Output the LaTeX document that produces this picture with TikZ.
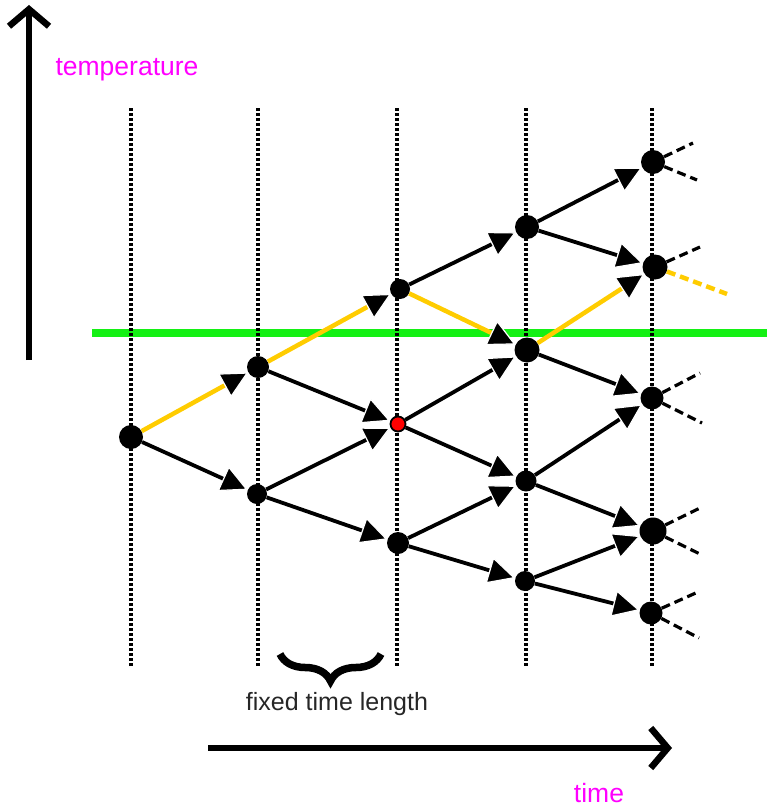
\documentclass[tikz,border=0pt]{standalone}
\usepackage{fontspec}
\setmainfont{Liberation Sans}
\usetikzlibrary{arrows.meta,decorations.pathreplacing}
\definecolor{gold}{RGB}{255,204,0}
\definecolor{lgreen}{RGB}{20,240,20}
\definecolor{mag}{RGB}{255,0,255}
\begin{document}
\begin{tikzpicture}[x=1pt,y=-1pt,
  dot/.style={circle,fill=black,inner sep=0pt,minimum size=#1},
  edge/.style={line width=3.8pt,-{Triangle[length=27pt,width=27pt,color=white,fill=black,line width=1.2pt]}},
  hot/.style={edge,draw=gold,line width=4.5pt},
  cont/.style={line width=3.2pt,dash pattern=on 9pt off 5pt},
  grid/.style={line width=3.2pt,dash pattern=on 2.5pt off 2.5pt},
  bigarrow/.style={line width=6.5pt,-{Straight Barb[length=17pt,width=40pt,line width=6.5pt]}},
  lbl/.style={font=\fontsize{26.5}{30}\selectfont}
]
\useasboundingbox (0,0) rectangle (767,808);

% green threshold line
\coordinate (gl) at (92,333);
\coordinate (gr) at (767,333);
\draw[lgreen,line width=8pt] (gl) -- (gr);

% time columns
\foreach \x [count=\i] in {131,258,397,526,652}{
  \coordinate (t\i) at (\x,108);
  \coordinate (b\i) at (\x,667);
  \draw[grid] (t\i) -- (b\i);
}

% nodes
\node[dot=24pt] (A) at (131,437) {};
\node[dot=22pt] (B1) at (258,367) {};
\node[dot=20pt] (B2) at (257,494) {};
\node[dot=20pt] (C1) at (400,289) {};
\node[circle,fill=red,draw=black,line width=1.8pt,inner sep=0pt,minimum size=15pt] (C2) at (398,424) {};
\node[dot=22pt] (C3) at (398,543) {};
\node[dot=24pt] (D1) at (527,227) {};
\node[dot=25pt] (D2) at (527,350) {};
\node[dot=21pt] (D3) at (526,481) {};
\node[dot=20pt] (D4) at (525,581) {};
\node[dot=24pt] (E1) at (653,162) {};
\node[dot=25pt] (E2) at (655,267) {};
\node[dot=23pt] (E3) at (652,398) {};
\node[dot=27pt] (E4) at (653,531) {};
\node[dot=23pt] (E5) at (651,613) {};

% edges
\draw[hot]  (A) -- (B1);
\draw[edge] (A) -- (B2);
\draw[hot]  (B1) -- (C1);
\draw[edge] (B1) -- (C2);
\draw[edge] (B2) -- (C2);
\draw[edge] (B2) -- (C3);
\draw[edge] (C1) -- (D1);
\draw[hot]  (C1) -- (D2);
\draw[edge] (C2) -- (D2);
\draw[edge] (C2) -- (D3);
\draw[edge] (C3) -- (D3);
\draw[edge] (C3) -- (D4);
\draw[edge] (D1) -- (E1);
\draw[edge] (D1) -- (E2);
\draw[hot]  (D2) -- (E2);
\draw[edge] (D2) -- (E3);
\draw[edge] (D3) -- (E3);
\draw[edge] (D3) -- (E4);
\draw[edge] (D4) -- (E4);
\draw[edge] (D4) -- (E5);

% continuations
\coordinate (e1u) at (693,143);
\coordinate (e1d) at (697,180);
\coordinate (e2u) at (700,247);
\coordinate (e2d) at (727,294);
\coordinate (e3u) at (700,373);
\coordinate (e3d) at (702,423);
\coordinate (e4u) at (702,507);
\coordinate (e4d) at (702,555);
\coordinate (e5u) at (698,592);
\coordinate (e5d) at (699,638);
\draw[cont] (E1) -- (e1u);
\draw[cont] (E1) -- (e1d);
\draw[cont] (E2) -- (e2u);
\draw[cont,gold,line width=4.5pt] (E2) -- (e2d);
\draw[cont] (E3) -- (e3u);
\draw[cont] (E3) -- (e3d);
\draw[cont] (E4) -- (e4u);
\draw[cont] (E4) -- (e4d);
\draw[cont] (E5) -- (e5u);
\draw[cont] (E5) -- (e5d);

% axes
\coordinate (ty0) at (29,360);
\coordinate (ty1) at (29,5);
\draw[bigarrow] (ty0) -- (ty1);
\node[lbl,text=mag] (templbl) at (127,70) {temperature};

\coordinate (tx0) at (208,748);
\coordinate (tx1) at (672,748);
\draw[bigarrow] (tx0) -- (tx1);
\node[lbl,text=mag] (timelbl) at (599,793) {time};

% brace
\coordinate (br0) at (280,654);
\coordinate (br1) at (381,654);
\draw[line width=7.5pt,decorate,decoration={brace,mirror,amplitude=27pt}] (br0) -- (br1);
\node[font=\fontsize{25}{30}\selectfont,text=black!85] (fixlbl) at (337,704) {fixed time length};
\end{tikzpicture}
\end{document}
